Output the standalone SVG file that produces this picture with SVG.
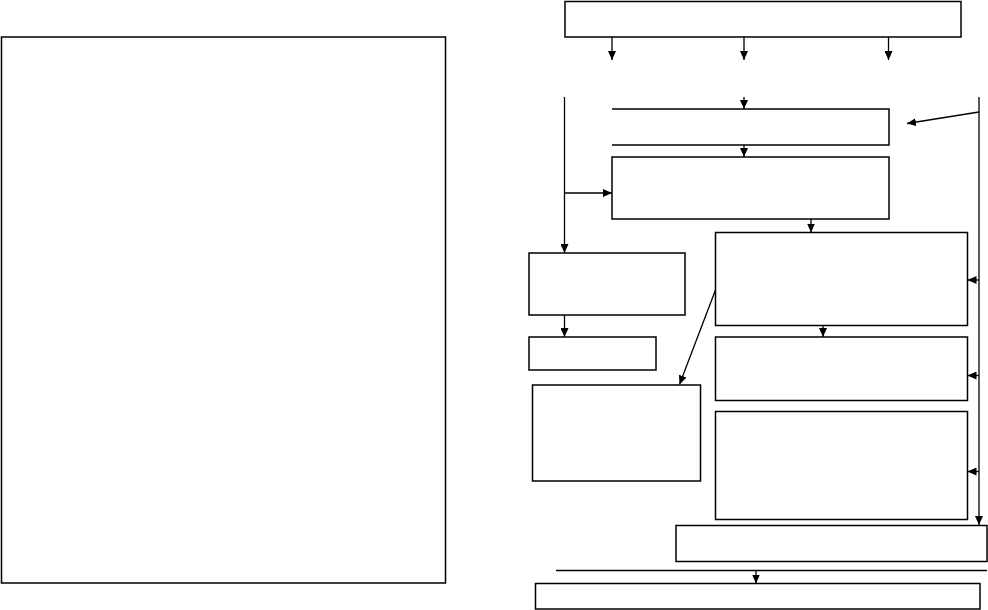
<svg xmlns="http://www.w3.org/2000/svg" width="988" height="610" viewBox="0 0 988 610">
<defs>
<style>
.n{fill:none;stroke:#000;stroke-width:1.5}
.c{fill:none;stroke:#000;stroke-width:1.3}
</style>
<marker id="ah" viewBox="0 0 9 8" refX="9" refY="4" markerWidth="9" markerHeight="8" markerUnits="userSpaceOnUse" orient="auto">
<path d="M0,0 L9,4 L0,8 Z" fill="#000"/>
</marker>
</defs>
<rect width="988" height="610" fill="#fff"/>
<g id="panel-left"><rect class="n" x="1.5" y="37" width="444" height="546"/></g>
<g id="top"><rect class="n" x="565" y="1.5" width="396" height="35.5"/></g>
<g id="box2"><path class="n" d="M612,109 H889 V145 H612"/></g>
<g id="box3"><rect class="n" x="612" y="157" width="277" height="62"/></g>
<g id="box4"><rect class="n" x="715.5" y="232.5" width="252" height="93"/></g>
<g id="box5"><rect class="n" x="715.5" y="337" width="252" height="63.5"/></g>
<g id="box6"><rect class="n" x="715.5" y="411.5" width="252" height="108"/></g>
<g id="l1"><rect class="n" x="529" y="253" width="156" height="62"/></g>
<g id="l2"><rect class="n" x="529" y="337" width="127" height="33"/></g>
<g id="l3"><rect class="n" x="532.5" y="385" width="168" height="96"/></g>
<g id="b1"><rect class="n" x="676" y="525.5" width="311" height="36"/></g>
<g id="b2"><rect class="n" x="535.5" y="583.5" width="444.5" height="25.5"/></g>
<g id="connectors">
<path class="c" d="M612,37 V60" marker-end="url(#ah)"/>
<path class="c" d="M744,37 V60" marker-end="url(#ah)"/>
<path class="c" d="M888.5,37 V60" marker-end="url(#ah)"/>
<path class="c" d="M744,97 V109" marker-end="url(#ah)"/>
<path class="c" d="M744,145 V157" marker-end="url(#ah)"/>
<path class="c" d="M564.5,97 V253" marker-end="url(#ah)"/>
<path class="c" d="M564.5,193 H612" marker-end="url(#ah)"/>
<path class="c" d="M979,112 L907,123.5" marker-end="url(#ah)"/>
<path class="c" d="M979,97 V525" marker-end="url(#ah)"/>
<path class="c" d="M811,219 V232.5" marker-end="url(#ah)"/>
<path class="c" d="M979,280 H967.5" marker-end="url(#ah)"/>
<path class="c" d="M823,325.5 V337" marker-end="url(#ah)"/>
<path class="c" d="M979,375.5 H967.5" marker-end="url(#ah)"/>
<path class="c" d="M979,471.5 H967.5" marker-end="url(#ah)"/>
<path class="c" d="M564.5,315 V337" marker-end="url(#ah)"/>
<path class="c" d="M715.5,290 L679.5,384.5" marker-end="url(#ah)"/>
<path class="c" d="M556,570.5 H987"/>
<path class="c" d="M756,570.5 V583.5" marker-end="url(#ah)"/>
</g>
</svg>
